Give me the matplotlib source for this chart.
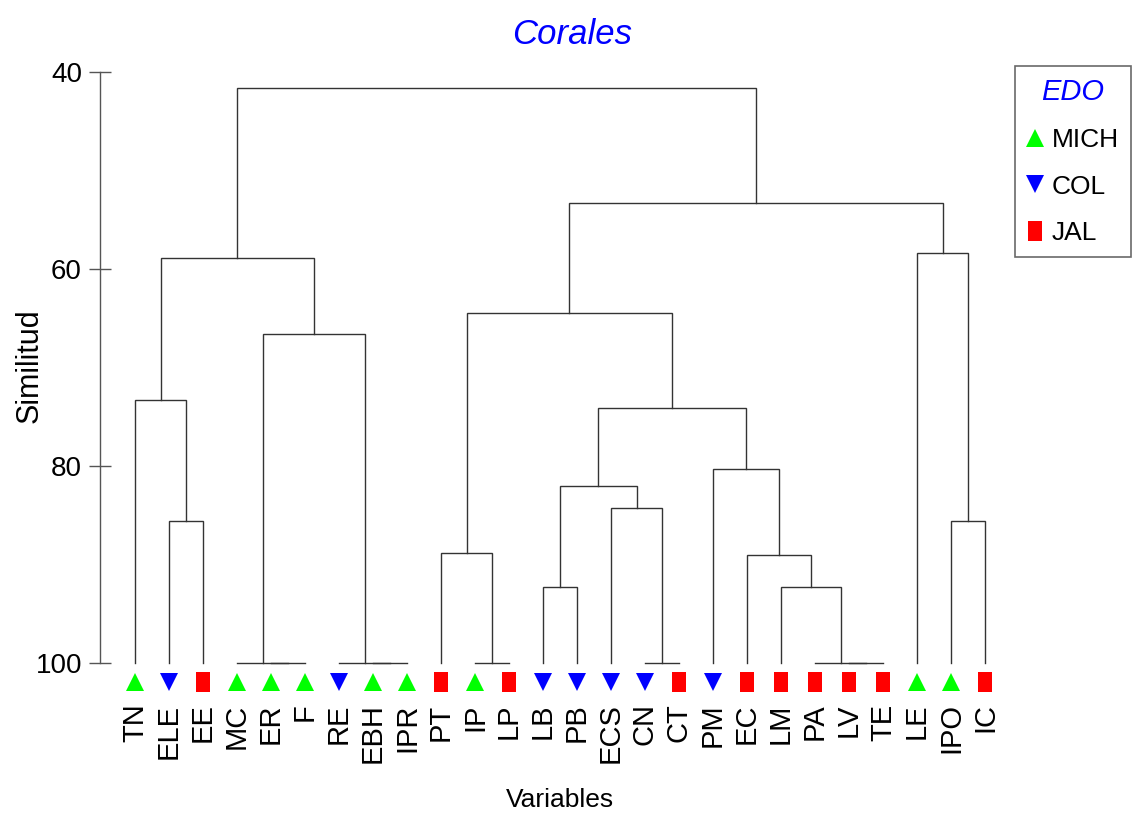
import matplotlib
matplotlib.use('Agg')
import matplotlib.pyplot as plt
from matplotlib.lines import Line2D

# leaves in dendrogram order and the state of each
leaves = ['TN', 'ELE', 'EE', 'MC', 'ER', 'F', 'RE', 'EBH', 'IPR', 'PT', 'IP', 'LP', 'LB',
          'PB', 'ECS', 'CN', 'CT', 'PM', 'EC', 'LM', 'PA', 'LV', 'TE', 'LE', 'IPO', 'IC']
states = ['MICH', 'COL', 'JAL', 'MICH', 'MICH', 'MICH', 'COL', 'MICH', 'MICH', 'JAL', 'MICH',
          'JAL', 'COL', 'COL', 'COL', 'COL', 'JAL', 'COL', 'JAL', 'JAL', 'JAL', 'JAL', 'JAL',
          'MICH', 'MICH', 'JAL']

# merges (left node, right node, similarity); new nodes numbered from len(leaves)
merge_left = [1, 0, 4, 3, 7, 6, 29, 27, 10, 9, 12, 15, 14, 36, 21, 20, 19, 18, 17, 39, 35, 24, 23, 46, 33]
merge_right = [2, 26, 5, 28, 8, 30, 31, 32, 11, 34, 13, 16, 37, 38, 22, 40, 41, 42, 43, 44, 45, 25, 47, 48, 49]
merge_sim = [85.6, 73.3, 100, 100, 100, 100, 66.6, 58.9, 100, 88.8, 92.3, 100, 84.3, 82.0,
             100, 100, 92.3, 89.0, 80.3, 74.1, 64.5, 85.6, 58.4, 53.3, 41.6]

yticks = [40, 60, 80, 100]

state_style = {
    'MICH': dict(marker='^', color='#00ff00', ms=13),
    'COL': dict(marker='v', color='#0000ff', ms=13),
    'JAL': dict(marker=[(-0.7, -1), (0.7, -1), (0.7, 1), (-0.7, 1)], color='#ff0000', ms=14),
}

plt.rcParams['font.family'] = ['Liberation Sans', 'DejaVu Sans']

fig = plt.figure(figsize=(11.35, 8.17), dpi=100)
ax = fig.add_axes([100 / 1135, 1 - 663 / 817, 910 / 1135, 591 / 817])

xpos = {i: float(i) for i in range(len(leaves))}
hpos = {i: 100.0 for i in range(len(leaves))}
for k in range(len(merge_sim)):
    a, b, h = merge_left[k], merge_right[k], merge_sim[k]
    xa, xb = xpos[a], xpos[b]
    ax.plot([xa, xa, xb, xb], [hpos[a], h, h, hpos[b]], color='#333333', lw=1.0,
            solid_joinstyle='miter', clip_on=False)
    node = len(leaves) + k
    xpos[node] = (xa + xb) / 2
    hpos[node] = h

ax.set_xlim(-35 / 34, 25 + 25 / 34)
ax.set_ylim(100, 40)

for i, (lab, st) in enumerate(zip(leaves, states)):
    s = state_style[st]
    ax.plot([i], [101.9], linestyle='none', marker=s['marker'], color=s['color'],
            markersize=s['ms'], markeredgewidth=0, clip_on=False)
    ax.text(i, 104.1, lab, rotation=90, ha='center', va='top', fontsize=21)

ax.set_xticks([])
ax.set_yticks(yticks)
ax.tick_params(axis='y', direction='inout', length=16, width=1, color='#555555', pad=5,
               labelsize=20)
for side in ['top', 'right', 'bottom']:
    ax.spines[side].set_visible(False)
ax.spines['left'].set_color('#555555')
ax.spines['left'].set_linewidth(1.0)

fig.text(30 / 1135, 1 - 366 / 817, 'Similitud', rotation=90, ha='center', va='center', fontsize=22)
fig.text(560 / 1135, 1 - 800 / 817, 'Variables', ha='center', va='center', fontsize=19)
fig.text(572 / 1135, 1 - 34 / 817, 'Corales', ha='center', va='center', fontsize=25,
         style='italic', color='#0000ff')

handles = []
for st in ['MICH', 'COL', 'JAL']:
    s = state_style[st]
    handles.append(Line2D([], [], linestyle='none', marker=s['marker'], color=s['color'],
                          markersize=s['ms'], markeredgewidth=0, label=st))
leg = fig.legend(handles=handles, loc='upper right', bbox_to_anchor=(1131 / 1135, 1 - 66 / 817),
                 borderaxespad=0, frameon=True, fancybox=False, edgecolor='#444444',
                 handlelength=0.6, handletextpad=0.35, labelspacing=0.85, borderpad=0.45,
                 title='EDO', prop={'size': 19})
leg.get_frame().set_linewidth(1.2)
leg.get_title().set_color('#0000ff')
leg.get_title().set_style('italic')
leg.get_title().set_fontsize(21)

fig.savefig('out.png', dpi=100)
